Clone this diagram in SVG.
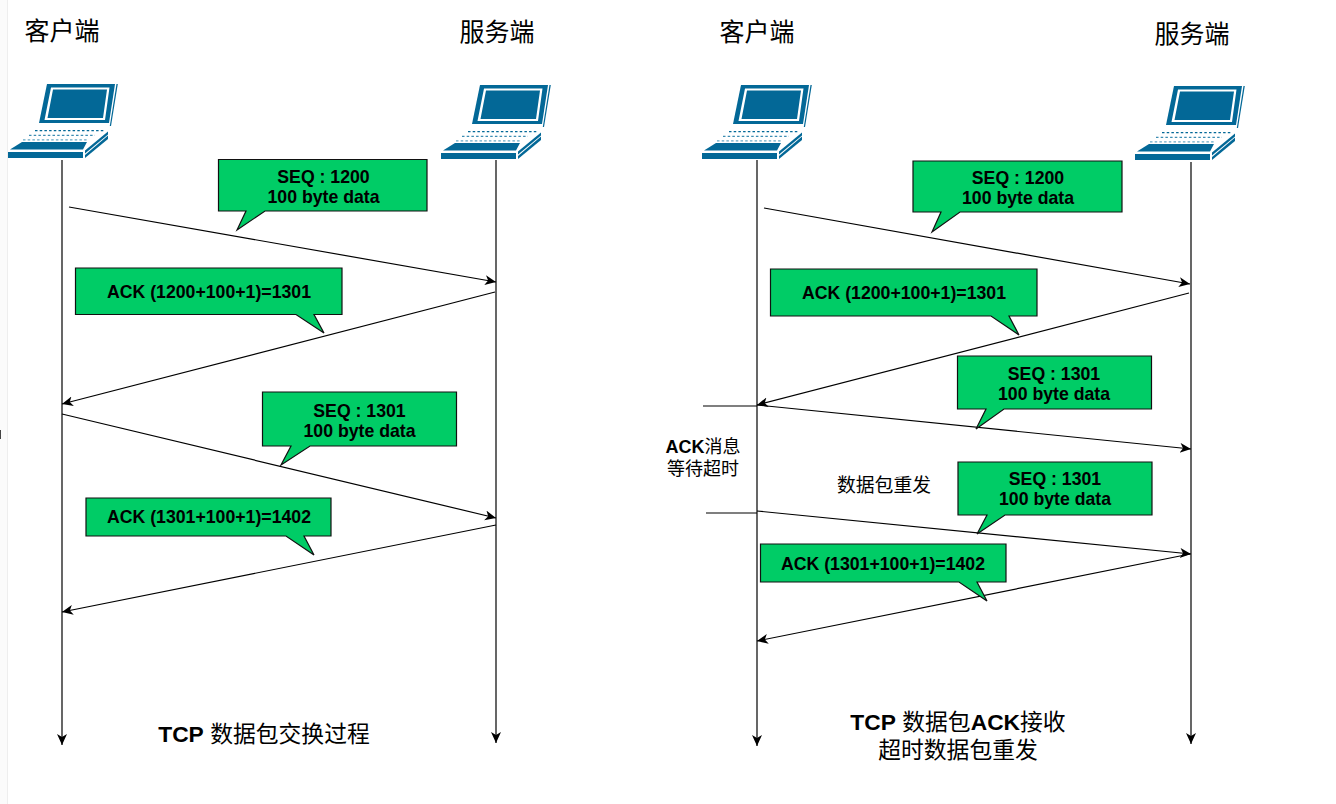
<svg xmlns="http://www.w3.org/2000/svg" width="1336" height="804" viewBox="0 0 1336 804">
<style>
.cn{font-family:"Liberation Sans","Noto Sans CJK SC",sans-serif;fill:#000}
.t{font-size:25px;text-anchor:middle}
.l{font-size:17.700px;font-weight:700;text-anchor:middle}
.s{font-size:18px;text-anchor:middle}
.c{font-size:22.800px;text-anchor:middle}
.b{fill:#00CC66;stroke:#111;stroke-width:1.200}
.w{fill:none;stroke:#000;stroke-width:1.200}
.a{fill:none;stroke:#000;stroke-width:1.200;marker-end:url(#arr)}
</style>
<defs>
<marker id="arr" markerUnits="userSpaceOnUse" markerWidth="14" markerHeight="12" refX="11" refY="5" orient="auto"><path d="M0,0L11,5L0,10L3,5Z" fill="#000"/></marker>
<g id="laptop">
<path d="M39,0H107L101,39H31Z" fill="#036897"/>
<path d="M43,3.500H101.500L97,36H36.500ZM45,5.500L39.500,34H95L99,5.500Z" fill="#fff" fill-rule="evenodd"/>
<path d="M108.500,0H109.800L103,42H101.800Z" fill="#036897"/>
<g fill="none" stroke-width="1.300" stroke-dasharray="2.500 2.200"><path d="M27,46.700H97" stroke="#036897"/><path d="M21,51.300H87" stroke="#3d8db2"/><path d="M15,55.800H80" stroke="#6aa9c6"/></g>
<path d="M2,65.500L14,58H79L75,65.500Z" fill="#036897"/>
<path d="M0,68H75V74H0Z" fill="#036897"/>
<path d="M77,66.500L100,47.500V50.500L77,69.500Z" fill="#036897"/>
<path d="M77,71L100,51.500V55L77,74Z" fill="#036897"/>
</g>
</defs>
<rect x="0" y="0" width="1336" height="804" fill="#fff"/>
<rect x="0" y="0" width="7" height="804" fill="#fbfbfb"/>
<rect x="7" y="0" width="1" height="804" fill="#eeeeee"/>
<rect x="0" y="430" width="1" height="9" fill="#444"/>

<g id="connectors">
<path class="a" d="M62,160V745"/>
<path class="a" d="M496,160V743"/>
<path class="a" d="M757,160V746"/>
<path class="a" d="M1191,162V744"/>
<path class="a" d="M69,207L496,282"/>
<path class="a" d="M495,292L62,404"/>
<path class="a" d="M62,414L496,518"/>
<path class="a" d="M496,525L62,612"/>
<path class="a" d="M764,208L1190,284"/>
<path class="a" d="M1189,293L757,405"/>
<path class="a" d="M757,405L1191,449"/>
<path class="a" d="M757,511L1191,554"/>
<path class="a" d="M1190,554L757,641"/>
<path class="w" d="M703,406H757"/>
<path class="w" d="M706,513H757"/>
</g>

<g id="client-a"><text class="cn t" x="62" y="40">客户端</text><use href="#laptop" x="8" y="84"/></g>
<g id="server-a"><text class="cn t" x="497" y="41">服务端</text><use href="#laptop" x="441" y="85"/></g>
<g id="client-b"><text class="cn t" x="757" y="41">客户端</text><use href="#laptop" x="702" y="85"/></g>
<g id="server-b"><text class="cn t" x="1192" y="43">服务端</text><use href="#laptop" x="1135" y="86"/></g>

<g id="seq-1200-a"><path class="b" d="M218.500,159.500H427V211H265L237,230L246,211H218.500Z"/><text class="cn l" x="323.500" y="183">SEQ : 1200</text><text class="cn l" x="323.500" y="203">100 byte data</text></g>
<g id="ack-1301-a"><path class="b" d="M75.500,268H342V314.500H314L324,333L296,314.500H75.500Z"/><text class="cn l" x="209" y="298">ACK (1200+100+1)=1301</text></g>
<g id="seq-1301-a"><path class="b" d="M262.500,392H456.500V446H310L281,465L291,446H262.500Z"/><text class="cn l" x="359.500" y="417">SEQ : 1301</text><text class="cn l" x="359.500" y="437">100 byte data</text></g>
<g id="ack-1402-a"><path class="b" d="M86,498H331V536H304L314,555L286,536H86Z"/><text class="cn l" x="209" y="523">ACK (1301+100+1)=1402</text></g>

<g id="seq-1200-b"><path class="b" d="M913,161H1122V212H960L932,232L941,212H913Z"/><text class="cn l" x="1018" y="184">SEQ : 1200</text><text class="cn l" x="1018" y="204">100 byte data</text></g>
<g id="ack-1301-b"><path class="b" d="M770.500,269H1037V316H1009L1019,335L991,316H770.500Z"/><text class="cn l" x="904" y="299">ACK (1200+100+1)=1301</text></g>
<g id="seq-1301-b1"><path class="b" d="M957.500,356H1151.500V409H1004L976,429L986,409H957.500Z"/><text class="cn l" x="1054" y="380">SEQ : 1301</text><text class="cn l" x="1054" y="400">100 byte data</text></g>
<g id="seq-1301-b2"><path class="b" d="M958,462H1152V515H1005L977,534L987,515H958Z"/><text class="cn l" x="1055" y="485">SEQ : 1301</text><text class="cn l" x="1055" y="505">100 byte data</text></g>
<g id="ack-1402-b"><path class="b" d="M760.500,544H1006V582H977L987,601L959,582H760.500Z"/><text class="cn l" x="883" y="570">ACK (1301+100+1)=1402</text></g>

<g id="label-wait"><text class="cn s" x="703" y="453"><tspan font-weight="700">ACK</tspan>消息</text><text class="cn s" x="703" y="475">等待超时</text></g>
<g id="label-resend"><text class="cn s" x="884" y="492" style="font-size:18.800px">数据包重发</text></g>
<g id="caption-a"><text class="cn c" x="264" y="742"><tspan font-weight="700">TCP</tspan> 数据包交换过程</text></g>
<g id="caption-b"><text class="cn c" x="958" y="730"><tspan font-weight="700">TCP</tspan> 数据包<tspan font-weight="700">ACK</tspan>接收</text><text class="cn c" x="958" y="758">超时数据包重发</text></g>
</svg>
